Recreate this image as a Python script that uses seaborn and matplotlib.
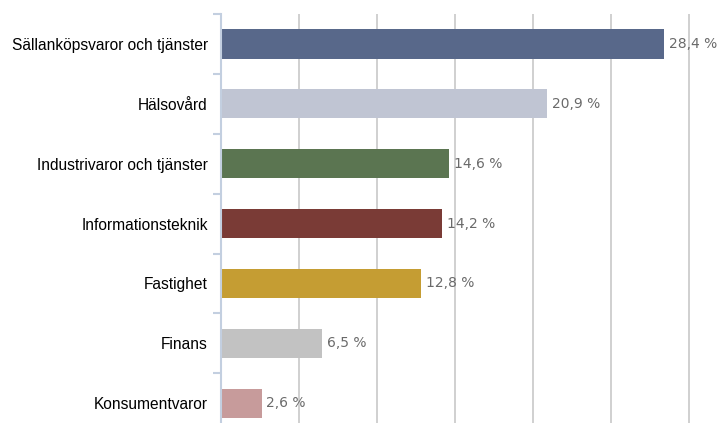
import numpy as np
import pandas as pd
import seaborn as sns
import matplotlib.pyplot as plt
from matplotlib.ticker import FixedLocator, MultipleLocator

categories = ["Sällanköpsvaror och tjänster", "Hälsovård", "Industrivaror och tjänster",
              "Informationsteknik", "Fastighet", "Finans", "Konsumentvaror"]
values = [28.4, 20.9, 14.6, 14.2, 12.8, 6.5, 2.6]
colors = ["#58688a", "#c0c5d3", "#5b7551", "#7a3b36", "#c59d33", "#c2c2c2", "#c79b9b"]

df = pd.DataFrame({"sektor": categories, "andel": values})

sns.set_style("white")
plt.rcParams['font.family'] = ['Liberation Sans', 'DejaVu Sans']

fig = plt.figure(figsize=(7.17, 4.23), dpi=100)
ax = fig.add_axes([221 / 717, 0.0, 1 - 221 / 717, 1 - 14 / 423])

sns.barplot(data=df, x="andel", y="sektor", hue="sektor", palette=colors,
            legend=False, width=0.49, ax=ax, orient="h", saturation=1, linewidth=0)

ax.set_xlim(0, 31.8)
ax.set_ylim(6.33, -0.5)
ax.xaxis.set_major_locator(MultipleLocator(5))
ax.grid(axis="x", color="#c8c8c8", linewidth=1.2)
ax.set_axisbelow(True)
ax.tick_params(axis="x", length=0, labelbottom=False)
ax.set_xlabel("")
ax.set_ylabel("")

for s in ["top", "right", "bottom"]:
    ax.spines[s].set_visible(False)
ax.spines["left"].set_color("#c3cfe0")
ax.spines["left"].set_linewidth(1.5)

# small ticks between the categories
ax.yaxis.set_minor_locator(FixedLocator(np.arange(-0.5, 7, 1)))
ax.tick_params(axis="y", which="major", left=False, length=0, pad=9.5, labelsize=11.2, labelcolor="black")
ax.tick_params(axis="y", which="minor", left=True, length=6, width=1.5, color="#c3cfe0")

for cont in ax.containers:
    ax.bar_label(cont, labels=[f"{v:.1f} %".replace(".", ",") for v in cont.datavalues],
                 padding=3.5, color="#6a6a6a", fontsize=10, family="DejaVu Sans")

fig.savefig("out.png", dpi=100)
